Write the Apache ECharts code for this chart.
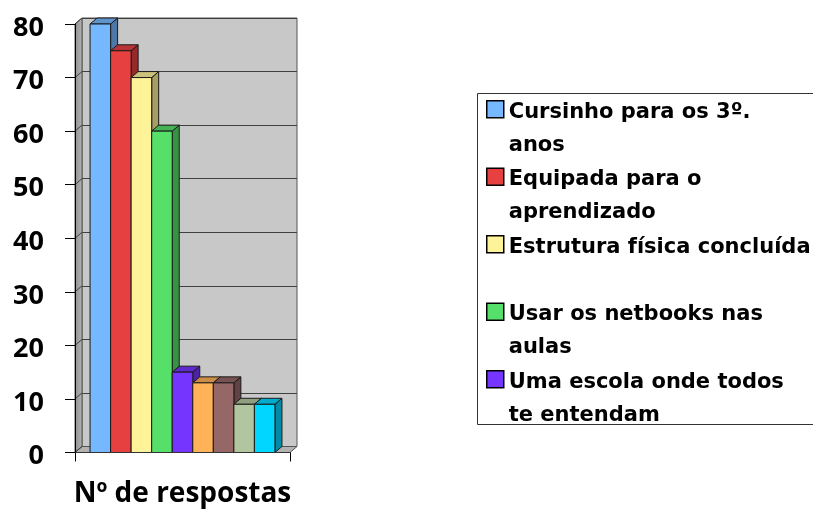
<!DOCTYPE html>
<html><head><meta charset="utf-8">
<script src="https://cdn.jsdelivr.net/npm/echarts@6/dist/echarts.min.js"></script>
<style>html,body{margin:0;padding:0;background:#fff}#c{width:813px;height:509px}</style>
</head><body><div id="c"></div>
<script>
// ---- data ----
const categories = ['Nº de respostas'];
const seriesNames = ['Cursinho para os 3º. anos', 'Equipada para o aprendizado', 'Estrutura física concluída', 'Usar os netbooks nas aulas', 'Uma escola onde todos te entendam', 'Série 6', 'Série 7', 'Série 8', 'Série 9'];
const legendLabels = ['Cursinho para os 3º.\nanos', 'Equipada para o\naprendizado', 'Estrutura física concluída\n ', 'Usar os netbooks nas\naulas', 'Uma escola onde todos\nte entendam'];
const values = [80, 75, 70, 60, 15, 13, 13, 9, 9];
const colors = ['#76B8FF', '#E64040', '#FFF39A', '#56E06A', '#7535FF', '#FFB257', '#956767', '#B1C59F', '#00D6FF'];
const yTicks = [0, 10, 20, 30, 40, 50, 60, 70, 80];

// ---- layout ----
const W = 813, H = 509;
const GL = 75, GR = 290, GT = 24, GB = 452.5;
const DX = 7, DY = -6;
const GAP = 0.07;

function shade(hex, f) {
  const n = parseInt(hex.slice(1), 16);
  const r = Math.round(((n >> 16) & 255) * f), g = Math.round(((n >> 8) & 255) * f), b = Math.round((n & 255) * f);
  return 'rgb(' + r + ',' + g + ',' + b + ')';
}

function barSeries(i) {
  return {
    type: 'custom', name: seriesNames[i], xAxisIndex: 0, yAxisIndex: 0,
    itemStyle: { color: colors[i] },
    data: [[0, values[i]]], encode: { x: 0, y: 1 }, z: 3,
    renderItem: function (params, api) {
      const top = api.coord([api.value(0), api.value(1)]);
      const base = api.coord([api.value(0), 0]);
      const band = api.size([1, 0])[0];
      const bw = band * (1 - 2 * GAP) / values.length;
      const x0 = top[0] - band / 2 + band * GAP + i * bw, x1 = x0 + bw;
      const yT = top[1], yB = base[1];
      const stroke = '#1a1a1a';
      return { type: 'group', children: [
        { type: 'polygon', shape: { points: [[x1, yB], [x1, yT], [x1 + DX, yT + DY], [x1 + DX, yB + DY]] }, style: { fill: shade(colors[i], 0.65), stroke: stroke, lineWidth: 1 } },
        { type: 'polygon', shape: { points: [[x0, yT], [x1, yT], [x1 + DX, yT + DY], [x0 + DX, yT + DY]] }, style: { fill: shade(colors[i], 0.8), stroke: stroke, lineWidth: 1 } },
        { type: 'rect', shape: { x: x0, y: yT, width: bw, height: yB - yT }, style: { fill: colors[i], stroke: stroke, lineWidth: 1 } }
      ] };
    }
  };
}

const wallSeries = {
  type: 'custom', silent: true, xAxisIndex: 0, yAxisIndex: 0,
  data: [[0, 0]], encode: { x: 0, y: 1 }, z: 1,
  renderItem: function (params, api) {
    const c0 = api.coord([0, 0]);
    const band = api.size([1, 0])[0];
    const xl = c0[0] - band / 2, xr = c0[0] + band / 2, yb = c0[1];
    const ytop = api.coord([0, yTicks[yTicks.length - 1]])[1];
    const children = [
      { type: 'polygon', shape: { points: [[xl, yb], [xl, ytop], [xl + DX, ytop + DY], [xl + DX, yb + DY]] },
        style: { fill: { type: 'linear', x: 0, y: 0, x2: 1, y2: 0, colorStops: [{ offset: 0, color: '#8E8E8E' }, { offset: 1, color: '#B4B4B4' }] }, stroke: '#555', lineWidth: 1 } },
      { type: 'polygon', shape: { points: [[xl, yb], [xr, yb], [xr + DX, yb + DY], [xl + DX, yb + DY]] },
        style: { fill: '#B2B2B2', stroke: '#555', lineWidth: 1 } }
    ];
    yTicks.forEach(function (v) {
      const y = api.coord([0, v])[1];
      children.push({ type: 'line', shape: { x1: xl, y1: y, x2: xl + DX, y2: y + DY }, style: { stroke: '#404040', lineWidth: 1 } });
    });
    return { type: 'group', children: children };
  }
};

const series = [wallSeries];
for (let i = 0; i < values.length; i++) series.push(barSeries(i));

const chart = echarts.init(document.getElementById('c'), null, { renderer: 'canvas' });
chart.setOption({
  animation: false,
  backgroundColor: '#fff',
  grid: [
    { left: GL, right: W - GR, top: GT, bottom: H - GB },
    { left: GL + DX, right: W - GR - DX, top: GT + DY, bottom: H - GB - DY, show: true, backgroundColor: '#C8C8C8', borderColor: '#555', borderWidth: 1, z: 0 }
  ],
  xAxis: [
    { type: 'category', gridIndex: 0, data: categories, z: 5,
      axisLine: { show: true, lineStyle: { color: '#333', width: 1 } },
      axisTick: { show: true, length: 9, lineStyle: { color: '#000' } },
      axisLabel: { margin: 28, color: '#000', fontFamily: 'Open Sans', fontWeight: 'bold', fontSize: 28 } },
    { type: 'category', gridIndex: 1, data: categories, show: false }
  ],
  yAxis: [
    { type: 'value', gridIndex: 0, min: 0, max: 80, interval: 10, z: 5,
      axisLine: { show: true, lineStyle: { color: '#000', width: 1 } },
      axisTick: { show: true, length: 10, lineStyle: { color: '#000' } },
      splitLine: { show: false },
      axisLabel: { margin: 31, color: '#000', fontFamily: 'Open Sans', fontWeight: 'bold', fontSize: 27,
        formatter: '{v|{value}}',
        rich: { v: { fontFamily: 'Open Sans', fontWeight: 'bold', fontSize: 27, color: '#000', padding: [8, 0, 0, 0] } } } },
    { type: 'value', gridIndex: 1, min: 0, max: 80, interval: 10,
      axisLine: { show: false }, axisTick: { show: false }, axisLabel: { show: false },
      splitLine: { show: true, lineStyle: { color: '#404040', width: 1 } } }
  ],
  legend: {
    data: seriesNames.slice(0, 5),
    orient: 'vertical', left: 486, top: 95, itemGap: 0,
    itemWidth: 17, itemHeight: 66, padding: 0, selectedMode: false,
    icon: 'path://M0,0L0.01,0M0,5L17,5L17,22L0,22ZM0,66L0.01,66',
    itemStyle: { borderColor: '#000', borderWidth: 1.5 },
    textStyle: { fontFamily: 'DejaVu Sans', fontWeight: 'bold', fontSize: 21, lineHeight: 33, color: '#000' },
    formatter: function (name) { return legendLabels[seriesNames.indexOf(name)]; }
  },
  graphic: [
    { type: 'rect', left: 475, top: 91, shape: { width: 420, height: 331 }, style: { fill: 'none', stroke: '#333', lineWidth: 1 }, silent: true }
  ],
  series: series
});
</script>
</body></html>
